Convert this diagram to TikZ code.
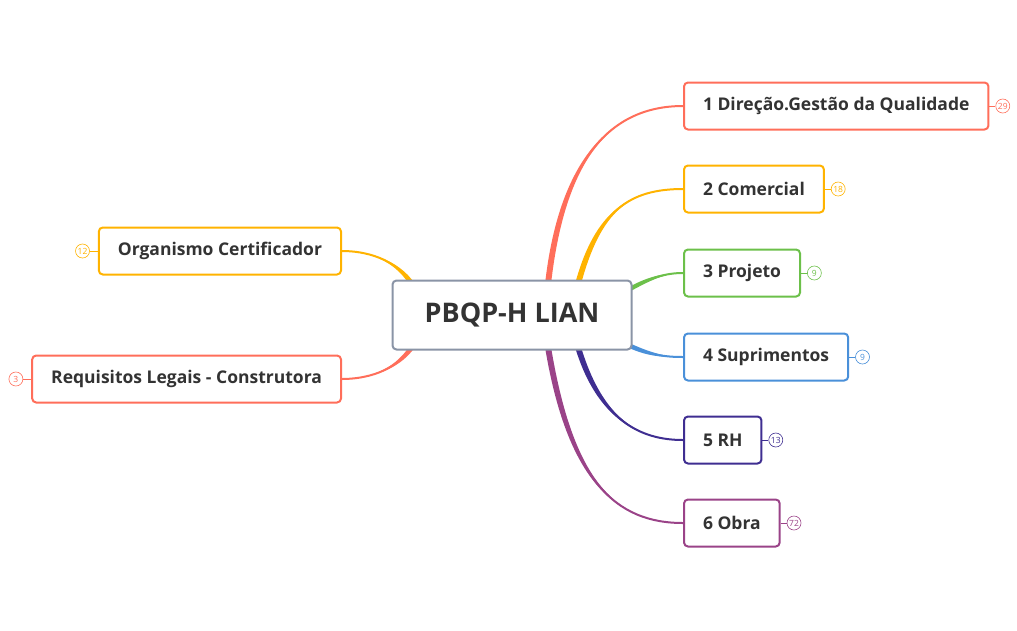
\documentclass[tikz,border=0pt]{standalone}
\usepackage{fontspec}
\setmainfont{Open Sans}
\usetikzlibrary{positioning,calc,backgrounds}
\definecolor{cred}{HTML}{FF6E5A}
\definecolor{corange}{HTML}{FFB300}
\definecolor{cgreen}{HTML}{6CC04A}
\definecolor{cblue}{HTML}{4A90D9}
\definecolor{cindigo}{HTML}{3F2E91}
\definecolor{cpurple}{HTML}{9A4388}
\definecolor{cgray}{HTML}{8A94A6}
\definecolor{ctext}{HTML}{333333}
\tikzset{
  topic/.style={draw=#1, line width=2pt, rounded corners=4pt, fill=white, text=ctext,
    font=\fontsize{17.5}{20}\selectfont\bfseries, minimum height=47pt, anchor=west, inner xsep=19pt},
  badge/.style={draw=#1, text=#1, circle, line width=0.6pt, minimum size=14pt, inner sep=0pt,
    font=\fontsize{8.5}{9}\selectfont},
}
% colour, start, shift, control 1, control 2, end
\newcommand\branch[6]{%
  \fill[#1] ($(#2)+(#3)$) .. controls ($(#4)+(#3)$) and (#5) .. (#6)
    .. controls (#5) and ($(#4)-(#3)$) .. ($(#2)-(#3)$) -- cycle;
  \draw[#1, line width=2pt] (#2) .. controls (#4) and (#5) .. (#6);}
\begin{document}
\begin{tikzpicture}[x=1pt,y=-1pt]
    \useasboundingbox (0,0) rectangle (1017,630);
    % Central topic
    \node[draw=cgray, line width=2pt, rounded corners=4pt, fill=white, text=ctext,
      minimum width=239pt, minimum height=69pt, font=\fontsize{27}{30}\selectfont\bfseries]
      (root) at (512,315) {PBQP-H LIAN};

    % Right topics
    \node[topic=cred] (dir) at (683,106) {1 Direção.Gestão da Qualidade};
    \node[topic=corange] (com) at (683,189) {2 Comercial};
    \node[topic=cgreen] (proj) at (683,273) {3 Projeto};
    \node[topic=cblue] (sup) at (683,357) {4 Suprimentos};
    \node[topic=cindigo] (rh) at (683,440) {5 RH};
    \node[topic=cpurple] (obra) at (683,523) {6 Obra};

    % Left topics
    \node[topic=corange, anchor=east] (org) at (342,251) {Organismo Certificador};
    \node[topic=cred, anchor=east] (req) at (342,379) {Requisitos Legais - Construtora};

    % Badges
    \node[badge=cred, right=6pt of dir] (bdir) {29};
    \node[badge=corange, right=6pt of com] (bcom) {18};
    \node[badge=cgreen, right=6pt of proj] (bproj) {9};
    \node[badge=cblue, right=6pt of sup] (bsup) {9};
    \node[badge=cindigo, right=6pt of rh] (brh) {13};
    \node[badge=cpurple, right=6pt of obra] (bobra) {72};
    \node[badge=corange, left=8pt of org] (borg) {12};
    \node[badge=cred, left=8pt of req] (breq) {3};
    \draw[cred, line width=1pt] (dir) -- (bdir);
    \draw[corange, line width=1pt] (com) -- (bcom);
    \draw[cgreen, line width=1pt] (proj) -- (bproj);
    \draw[cblue, line width=1pt] (sup) -- (bsup);
    \draw[cindigo, line width=1pt] (rh) -- (brh);
    \draw[cpurple, line width=1pt] (obra) -- (bobra);
    \draw[corange, line width=1pt] (org) -- (borg);
    \draw[cred, line width=1pt] (req) -- (breq);

    % Branches
    \begin{scope}[on background layer]
    \coordinate (s1) at (548,284);
    \coordinate (s2) at (578,284);
    \coordinate (s3) at (628,290);
    \coordinate (s4) at (628,345);
    \coordinate (s5) at (578,347);
    \coordinate (s6) at (548,347);
    \coordinate (s7) at (412,284);
    \coordinate (s8) at (412,347);
    \branch{cred}{s1}{3,0}{562,160}{610,106}{dir.west}
    \branch{corange}{s2}{3,0}{598,210}{630,189}{com.west}
    \branch{cgreen}{s3}{0,2.5}{650,278}{665,273}{proj.west}
    \branch{cblue}{s4}{0,2.5}{650,355}{665,357}{sup.west}
    \branch{cindigo}{s5}{3,0}{600,420}{640,440}{rh.west}
    \branch{cpurple}{s6}{3,0}{570,480}{615,523}{obra.west}
    \branch{corange}{s7}{3,0}{395,258}{365,251}{org.east}
    \branch{cred}{s8}{3,0}{395,372}{365,379}{req.east}
    \end{scope}
\end{tikzpicture}
\end{document}
